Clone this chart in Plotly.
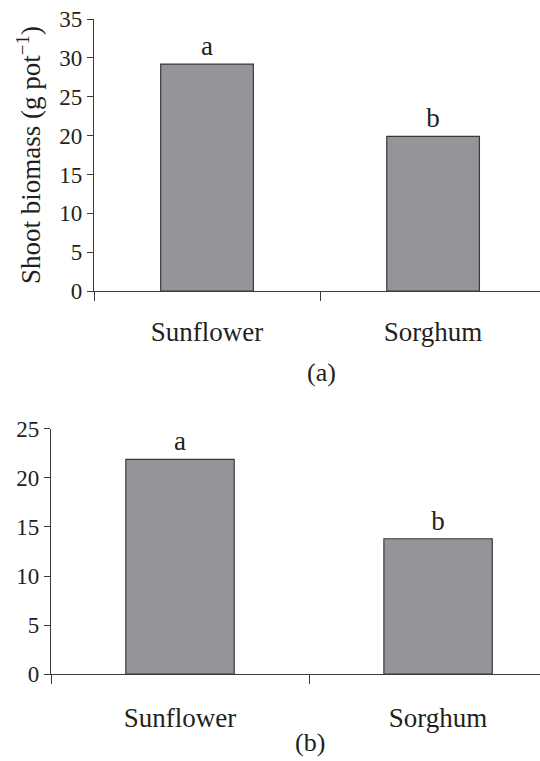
import plotly.graph_objects as go

categories = ["Sunflower", "Sorghum"]
shoot_biomass = [29.2, 19.9]
shoot_letters = ["a", "b"]
panel_b_values = [21.9, 13.8]
panel_b_letters = ["a", "b"]
y_ticks_a = [0, 5, 10, 15, 20, 25, 30, 35]
y_ticks_b = [0, 5, 10, 15, 20, 25]

FONT = "Liberation Serif, Times New Roman, serif"
TXT = "#231f20"
LINE = "#3a3a3a"
FILL = "#939598"

fig = go.Figure()
fig.add_trace(go.Bar(
    x=categories, y=shoot_biomass, text=shoot_letters, textposition="outside",
    cliponaxis=False, width=0.41,
    marker=dict(color=FILL, line=dict(color=LINE, width=1.2)),
    textfont=dict(family=FONT, size=27, color=TXT),
    xaxis="x", yaxis="y", showlegend=False))
fig.add_trace(go.Bar(
    x=categories, y=panel_b_values, text=panel_b_letters, textposition="outside",
    cliponaxis=False, width=0.42,
    marker=dict(color=FILL, line=dict(color=LINE, width=1.2)),
    textfont=dict(family=FONT, size=27, color=TXT),
    xaxis="x2", yaxis="y2", showlegend=False))

xcommon = dict(type="category", showline=True, linecolor=LINE, linewidth=1.3,
               ticks="outside", tickson="boundaries", ticklen=9, tickcolor=LINE,
               tickwidth=1.3, showgrid=False, zeroline=False, automargin=False,
               tickfont=dict(family=FONT, size=27, color=TXT))
ycommon = dict(showline=True, linecolor=LINE, linewidth=1.3, ticks="outside",
               ticklen=6, tickcolor=LINE, tickwidth=1.3, showgrid=False,
               zeroline=False, automargin=False,
               tickfont=dict(family=FONT, size=23, color=TXT))

fig.update_layout(
    width=540, height=761, margin=dict(l=0, r=0, t=0, b=0),
    paper_bgcolor="white", plot_bgcolor="white",
    font=dict(family=FONT, color=TXT),
    bargap=0.5,
    xaxis=dict(domain=[94/540, 1], range=[-0.5, 1.473], anchor="y",
               ticklabelstandoff=16, **xcommon),
    yaxis=dict(domain=[0.6176, 0.975], range=[0, 35], tickvals=y_ticks_a, anchor="x",
               title=dict(text="Shoot biomass (g pot<sup>−1</sup>)",
                          font=dict(family=FONT, size=27, color=TXT), standoff=10),
               **ycommon),
    xaxis2=dict(domain=[51/540, 1], range=[-0.5, 1.395], anchor="y2",
                ticklabelstandoff=19, **xcommon),
    yaxis2=dict(domain=[0.1143, 0.4363], range=[0, 25], tickvals=y_ticks_b, anchor="x2",
                **ycommon),
    annotations=[
        dict(text="(a)", x=321/540, y=(761-372)/761, xref="paper", yref="paper",
             showarrow=False, xanchor="center", yanchor="middle",
             font=dict(family=FONT, size=26, color=TXT)),
        dict(text="(b)", x=310/540, y=2/761, xref="paper", yref="paper",
             showarrow=False, xanchor="center", yanchor="bottom",
             font=dict(family=FONT, size=26, color=TXT)),
    ],
)

fig.write_html("out.html")
